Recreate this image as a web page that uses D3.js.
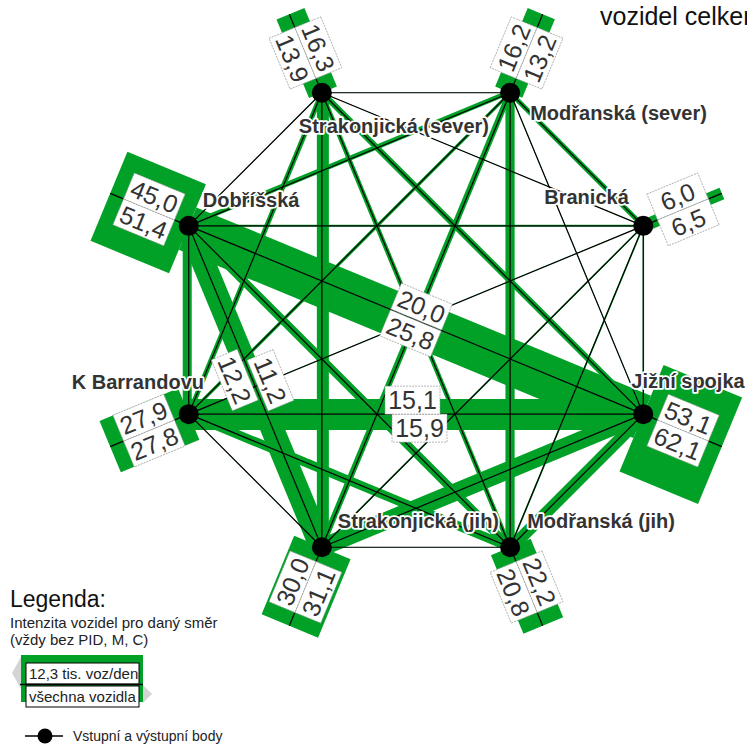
<!DOCTYPE html>
<html>
<head>
<meta charset="utf-8">
<script src="https://cdn.jsdelivr.net/npm/d3@7"></script>
<style>
  body { margin: 0; background: #fff; }
  svg { display: block; font-family: "Liberation Sans", Arial, sans-serif; }
  .node-name {
    font-weight: bold;
    font-size: 20px;
    fill: #333;
    stroke: #fff;
    stroke-width: 3.5px;
    stroke-linejoin: round;
    paint-order: stroke;
  }
  .value { font-size: 25px; fill: #333; }
  .legend-text { font-size: 15px; fill: #222; }
</style>
</head>
<body>
<div id="chart"></div>
<script>
// body (uzly křižovatky), po směru hodinových ručiček od Strakonické (sever)
const NODE_NAMES = [
  "Strakonjická (sever)",
  "Modřanská (sever)",
  "Branická",
  "Jižní spojka",
  "Modřanská (jih)",
  "Strakonjická (jih)",
  "K Barrandovu",
  "Dobříšská"
];

// vjezd / výjezd na každém vstupu (tis. voz/den)
const ENTERING = [13.9, 16.2, 6.0, 53.1, 22.2, 31.1, 27.8, 51.4];
const LEAVING = [16.3, 13.2, 6.5, 62.1, 20.8, 30.0, 27.9, 45.0];

// matice přepravních vztahů: řádek = odkud, sloupec = kam (pořadí jako NODE_NAMES)
const FROM_STRAK_S = [0, 0.2, 0.2, 3.0, 2.5, 5.0, 2.5, 0.3];
const FROM_MODR_S = [0.3, 0, 2.5, 0.3, 4.7, 3.5, 1.5, 3.3];
const FROM_BRANICKA = [0.3, 2.3, 0, 0.6, 0.7, 0.6, 0.5, 1.0];
const FROM_JIZNI = [3.0, 0.4, 0.8, 0, 5.0, 8.7, 15.1, 20.0];
const FROM_MODR_J = [2.0, 4.5, 0.9, 7.0, 0, 0.3, 4.5, 4.0];
const FROM_STRAK_J = [7.0, 2.5, 0.9, 8.9, 0.3, 0, 0.3, 11.2];
const FROM_BARRANDOV = [2.5, 1.7, 0.2, 15.9, 4.5, 0.3, 0, 3.0];
const FROM_DOBRISSKA = [0.3, 1.5, 1.0, 25.8, 4.4, 12.2, 6.0, 0];

const OD = [
  FROM_STRAK_S, FROM_MODR_S, FROM_BRANICKA, FROM_JIZNI,
  FROM_MODR_J, FROM_STRAK_J, FROM_BARRANDOV, FROM_DOBRISSKA
];

// vztahy, u kterých jsou popsané hodnoty
const LABELED_LINKS = [[7, 3], [6, 3], [7, 5]];

// ---- layout ----
const W = 747, H = 744;
const CENTER = { X: 416, Y: 320 };
const RADIUS = 246;
const STUB_LEN = 85;
const STUB_LABEL_AT = 43;
const BOX = { W: 55, H: 28 };
const GREEN = "#00a126";
const LINK_LABEL_T = [0.5, 0.5, 0.48];
const LINK_LABEL_GAP = [1, 0, 5];
const LINK_LABEL_SHIFT = [0, 3.5, -7];
const NAME_OFFSET = [[-23, 40], [20, 27], [-99, -22], [-12, -26], [17, -19], [16, -19], [-117, -25], [14, -19]];

const fmt = d3.formatLocale({ decimal: ",", thousands: " ", grouping: [3], currency: ["", ""] }).format(".1f");

const ANGLE = d3.scaleLinear().domain([0, NODE_NAMES.length]).range([-112.5, 247.5]);
const WIDTH = d3.scaleLinear().domain([0, 100]).range([0, 100]);

const svg = d3.select("#chart").append("svg").attr("width", W).attr("height", H);

const nodes = NODE_NAMES.map((name, i) => {
  const deg = ANGLE(i);
  const a = deg * Math.PI / 180;
  return {
    name, i, deg,
    ox: Math.cos(a), oy: Math.sin(a),
    x: CENTER.X + RADIUS * Math.cos(a),
    y: CENTER.Y + RADIUS * Math.sin(a)
  };
});

function readable(deg) {
  let r = ((deg % 360) + 360) % 360;
  if (r > 90 && r <= 270) r -= 180;
  if (r > 270) r -= 360;
  return r;
}

// pásy pro jednotlivé směry (vpravo ve směru jízdy)
const bands = [];
OD.forEach((row, i) => row.forEach((v, j) => {
  if (i === j) return;
  const P = nodes[i], Q = nodes[j];
  const L = Math.hypot(Q.x - P.x, Q.y - P.y);
  const ux = (Q.x - P.x) / L, uy = (Q.y - P.y) / L;
  const w = WIDTH(v);
  bands.push([
    [P.x, P.y], [Q.x, Q.y],
    [Q.x - uy * w, Q.y + ux * w], [P.x - uy * w, P.y + ux * w]
  ]);
}));

// vjezdy/výjezdy
nodes.forEach((n, i) => {
  const ex = n.x + n.ox * STUB_LEN, ey = n.y + n.oy * STUB_LEN;
  const sx = n.oy, sy = -n.ox; // strana vjezdu
  const wi = WIDTH(ENTERING[i]), wo = WIDTH(LEAVING[i]);
  bands.push([[n.x, n.y], [ex, ey], [ex + sx * wi, ey + sy * wi], [n.x + sx * wi, n.y + sy * wi]]);
  bands.push([[n.x, n.y], [ex, ey], [ex - sx * wo, ey - sy * wo], [n.x - sx * wo, n.y - sy * wo]]);
});

svg.append("g").selectAll("polygon")
  .data(bands)
  .enter()
  .append("polygon")
  .attr("points", (d) => d.map((p) => p.join(",")).join(" "))
  .attr("fill", GREEN);

// osy vztahů
const pairs = d3.cross(d3.range(8), d3.range(8)).filter(([a, b]) => a < b);
svg.append("g").selectAll("line")
  .data(pairs)
  .enter()
  .append("line")
  .attr("x1", (d) => nodes[d[0]].x)
  .attr("y1", (d) => nodes[d[0]].y)
  .attr("x2", (d) => nodes[d[1]].x)
  .attr("y2", (d) => nodes[d[1]].y)
  .attr("stroke", "#000")
  .attr("stroke-width", 1.2);

svg.append("g").selectAll("line")
  .data(nodes)
  .enter()
  .append("line")
  .attr("x1", (d) => d.x)
  .attr("y1", (d) => d.y)
  .attr("x2", (d) => d.x + d.ox * STUB_LEN)
  .attr("y2", (d) => d.y + d.oy * STUB_LEN)
  .attr("stroke", "#000")
  .attr("stroke-width", 1.2);

// popisky hodnot
const boxes = [];
nodes.forEach((n, i) => {
  const cx = n.x + n.ox * STUB_LABEL_AT, cy = n.y + n.oy * STUB_LABEL_AT;
  const sx = n.oy, sy = -n.ox;
  const rot = readable(n.deg);
  const h = BOX.H / 2;
  boxes.push({ x: cx + sx * h, y: cy + sy * h, rot, v: ENTERING[i] });
  boxes.push({ x: cx - sx * h, y: cy - sy * h, rot, v: LEAVING[i] });
});
LABELED_LINKS.forEach(([a, b], k) => {
  const P = nodes[a], Q = nodes[b];
  const t = LINK_LABEL_T[k];
  const L = Math.hypot(Q.x - P.x, Q.y - P.y);
  const ux = (Q.x - P.x) / L, uy = (Q.y - P.y) / L;
  const cx = P.x + (Q.x - P.x) * t, cy = P.y + (Q.y - P.y) * t;
  const rot = readable(Math.atan2(uy, ux) * 180 / Math.PI);
  const h = BOX.H / 2 + LINK_LABEL_GAP[k] / 2;
  const s = LINK_LABEL_SHIFT[k];
  boxes.push({ x: cx - uy * h + ux * s, y: cy + ux * h + uy * s, rot, v: OD[a][b] });
  boxes.push({ x: cx + uy * h - ux * s, y: cy - ux * h - uy * s, rot, v: OD[b][a] });
});

const boxG = svg.append("g").selectAll("g")
  .data(boxes)
  .enter()
  .append("g")
  .attr("transform", (d) => "translate(" + d.x + "," + d.y + ") rotate(" + d.rot + ")");
boxG.append("rect")
  .attr("x", -BOX.W / 2)
  .attr("y", -BOX.H / 2)
  .attr("width", BOX.W)
  .attr("height", BOX.H)
  .attr("fill", "#fff")
  .attr("stroke", "#999")
  .attr("stroke-width", 0.7)
  .attr("stroke-dasharray", "2,1");
boxG.append("text")
  .attr("class", "value")
  .attr("text-anchor", "middle")
  .attr("dy", "0.36em")
  .text((d) => fmt(d.v));

// body
svg.append("g").selectAll("circle")
  .data(nodes)
  .enter()
  .append("circle")
  .attr("cx", (d) => d.x)
  .attr("cy", (d) => d.y)
  .attr("r", 10)
  .attr("fill", "#000");

svg.append("g").selectAll("text")
  .data(nodes)
  .enter()
  .append("text")
  .attr("class", "node-name")
  .attr("x", (d) => d.x + NAME_OFFSET[d.i][0])
  .attr("y", (d) => d.y + NAME_OFFSET[d.i][1])
  .text((d) => d.name);

svg.append("text")
  .attr("x", 600)
  .attr("y", 25)
  .attr("font-size", 25)
  .attr("fill", "#111")
  .text("vozidel celkem");

// legenda
const LEG = svg.append("g").attr("id", "legend");
LEG.append("text").attr("x", 10).attr("y", 607).attr("font-size", 23).attr("fill", "#111").text("Legenda:");
LEG.append("text").attr("class", "legend-text").attr("x", 10).attr("y", 628).text("Intenzita vozidel pro daný směr");
LEG.append("text").attr("class", "legend-text").attr("x", 10).attr("y", 645).text("(vždy bez PID, M, C)");
LEG.append("polygon").attr("points", "21,657 12,673 21,689").attr("fill", "#d4d4d4");
LEG.append("polygon").attr("points", "143,685 152,694 143,703").attr("fill", "#d4d4d4");
LEG.append("rect").attr("x", 21).attr("y", 655).attr("width", 122).attr("height", 47).attr("fill", GREEN);
LEG.append("rect").attr("x", 26).attr("y", 663).attr("width", 113).attr("height", 21)
  .attr("fill", "#fff").attr("stroke", "#000").attr("stroke-width", 1);
LEG.append("rect").attr("x", 26).attr("y", 686).attr("width", 113).attr("height", 21)
  .attr("fill", "#fff").attr("stroke", "#000").attr("stroke-width", 1);
LEG.append("line").attr("x1", 20).attr("x2", 143).attr("y1", 684.5).attr("y2", 684.5)
  .attr("stroke", "#000").attr("stroke-width", 1.5);
LEG.append("text").attr("class", "legend-text").attr("x", 29).attr("y", 679).text("12,3 tis. voz/den");
LEG.append("text").attr("class", "legend-text").attr("x", 29).attr("y", 702).text("všechna vozidla");
LEG.append("line").attr("x1", 25).attr("x2", 63).attr("y1", 736).attr("y2", 736)
  .attr("stroke", "#000").attr("stroke-width", 1.5);
LEG.append("circle").attr("cx", 45).attr("cy", 736).attr("r", 7.5).attr("fill", "#000");
LEG.append("text").attr("x", 73).attr("y", 741).attr("font-size", 14).attr("fill", "#222").text("Vstupní a výstupní body");
</script>
</body>
</html>
